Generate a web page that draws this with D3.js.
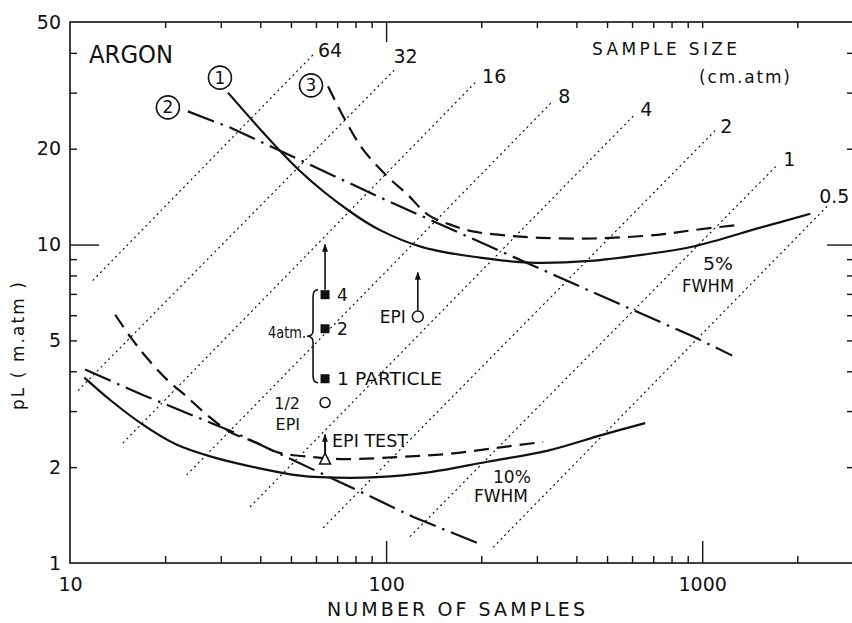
<!DOCTYPE html>
<html>
<head>
<meta charset="utf-8">
<script src="https://cdn.jsdelivr.net/npm/d3@7"></script>
<style>
  body { margin: 0; background: #fff; }
  svg text { font-family: "DejaVu Sans", "Liberation Sans", Arial, sans-serif; fill: #111; }
</style>
</head>
<body>
<svg id="chart" width="852" height="623"></svg>
<script>
// ---- axis ticks ----
const xTicksMinor = [20, 30, 40, 50, 60, 70, 80, 90, 200, 300, 400, 500, 600, 700, 800, 900, 2000];
const xTickLabels = [10, 100, 1000];
const yTicksMinor = [2, 3, 4, 5, 6, 7, 8, 9, 20, 30, 40];
const yTickLabels = [1, 2, 5, 10, 20, 50];

// ---- lines of constant sample size (cm.atm): [N, pL] at each end ----
const sampleSizes = ["64", "32", "16", "8", "4", "2", "1", "0.5"];
const isoStart = [[11.8, 7.71], [10.6, 3.48], [14.7, 2.38], [23.4, 1.89], [37.1, 1.50], [63.2, 1.29], [119, 1.21], [218, 1.12]];
const isoEnd = [[58.7, 39.4], [107, 35.6], [194, 32.7], [338, 28.3], [614, 25.7], [1099, 22.8], [1740, 17.9], [2504, 13.3]];

// ---- 5% FWHM curves: [number of samples, pL (m.atm)] ----
const fwhm5Curve1 = [[31.6, 30.0], [53.5, 17.0], [76.9, 12.7], [95.7, 11.1], [131, 9.8], [198, 9.1], [285, 8.78], [442, 8.89], [651, 9.3], [937, 9.86], [1528, 11.3], [2199, 12.5]];
const fwhm5Curve2 = [[23.6, 26.2], [32.1, 23.3], [103, 13.6], [411, 7.38], [937, 5.14], [1245, 4.48]];
const fwhm5Curve3 = [[65.5, 31.4], [74.1, 24.7], [84.5, 19.9], [100.7, 16.4], [116.5, 14.4], [135.8, 12.4], [159.5, 11.55], [188, 11.0], [234, 10.7], [307, 10.5], [452, 10.45], [736, 10.75], [937, 11.1], [1319, 11.55]];

// ---- 10% FWHM curves ----
const fwhm10Curve1 = [[11.1, 3.82], [13.4, 3.25], [17.0, 2.72], [21.8, 2.35], [28.3, 2.15], [39.1, 1.99], [53.5, 1.88], [61.8, 1.86], [93.6, 1.86], [138, 1.93], [209, 2.08], [323, 2.25], [486, 2.53], [660, 2.75]];
const fwhm10Curve2 = [[11.16, 4.05], [17.0, 3.37], [32.8, 2.58], [84.5, 1.66], [122, 1.395], [194, 1.156]];
const fwhm10Curve3 = [[13.9, 6.02], [15.5, 5.14], [17.5, 4.41], [20.3, 3.76], [23.4, 3.33], [27.1, 2.92], [32.1, 2.58], [39.1, 2.38], [45.2, 2.23], [58.7, 2.15], [75.3, 2.12], [108, 2.15], [156, 2.20], [224, 2.30], [314, 2.40]];

// ---- measured points ----
const particleN = 64.1;
const particleLabels = ["4", "2", "1 PARTICLE"];
const particlePL = [6.96, 5.44, 3.79];
const particleLimitPL = 10;
const epiPoint = [126, 5.94];
const epiLimitPL = 8.17;
const halfEpiPoint = [64.1, 3.19];
const epiTestPoint = [64.1, 2.12];
const epiTestLimitPL = 2.53;

const svg = d3.select("#chart");
const x = d3.scaleLog().domain([10, 3000]).range([70, 853]);
const y = d3.scaleLog().domain([1, 50]).range([563, 22]);
const line = d3.line().x(d => x(d[0])).y(d => y(d[1]));
const smooth = d3.line().x(d => x(d[0])).y(d => y(d[1])).curve(d3.curveCatmullRom.alpha(0.5));
const ink = "#111";

const defs = svg.append("defs");
defs.append("marker").attr("id", "arrow")
  .attr("viewBox", "0 0 10 10").attr("refX", 9).attr("refY", 5)
  .attr("markerUnits", "userSpaceOnUse").attr("markerWidth", 8).attr("markerHeight", 6)
  .attr("preserveAspectRatio", "none").attr("orient", "auto")
  .append("path").attr("d", "M0,0L10,5L0,10Z").attr("fill", ink);

// frame
svg.append("rect").attr("x", x(10)).attr("y", y(50))
  .attr("width", x(3000) - x(10)).attr("height", y(1) - y(50))
  .attr("fill", "none").attr("stroke", ink).attr("stroke-width", 1.6);

// inward tick marks
function tickMarks(axisFn, scale, vals, size, transform) {
  const g = svg.append("g").attr("transform", transform)
    .call(axisFn(scale).tickValues(vals).tickSize(size).tickFormat(""));
  g.select(".domain").remove();
  g.selectAll("line").attr("stroke", ink).attr("stroke-width", 1.4);
}
tickMarks(d3.axisBottom, x, xTicksMinor, -7, `translate(0,${y(1)})`);
tickMarks(d3.axisBottom, x, [100, 1000], -22, `translate(0,${y(1)})`);
tickMarks(d3.axisTop, x, xTicksMinor.concat([1000]), -6, `translate(0,${y(50)})`);
tickMarks(d3.axisTop, x, [100], -20, `translate(0,${y(50)})`);
tickMarks(d3.axisLeft, y, yTicksMinor, -7, `translate(${x(10)},0)`);
tickMarks(d3.axisLeft, y, [10], -29, `translate(${x(10)},0)`);
tickMarks(d3.axisRight, y, yTicksMinor, -6, `translate(${x(3000)},0)`);
tickMarks(d3.axisRight, y, [10], -26, `translate(${x(3000)},0)`);

// tick labels
const xLab = svg.append("g").attr("transform", `translate(0,${y(1)})`)
  .call(d3.axisBottom(x).tickValues(xTickLabels).tickSize(0).tickPadding(15).tickFormat(d3.format("d")));
xLab.select(".domain").remove();
xLab.selectAll("text").attr("font-size", 19);
const yLab = svg.append("g").attr("transform", `translate(${x(10)},0)`)
  .call(d3.axisLeft(y).tickValues(yTickLabels).tickSize(0).tickPadding(9).tickFormat(d3.format("d")));
yLab.select(".domain").remove();
yLab.selectAll("text").attr("font-size", 19);

// axis titles
svg.append("text").attr("x", 327).attr("y", 616).attr("font-size", 19)
  .attr("textLength", 258).attr("lengthAdjust", "spacing").text("NUMBER OF SAMPLES");
svg.append("text").attr("transform", "translate(24,346) rotate(-90)")
  .attr("text-anchor", "middle").attr("font-size", 17)
  .attr("textLength", 128).attr("lengthAdjust", "spacing").text("pL ( m.atm )");

// constant sample-size lines
const labelNudge = { "32": [-2, -6], "0.5": [-9, -2] };
const iso = svg.append("g");
sampleSizes.forEach((s, i) => {
  iso.append("path").attr("d", line([isoStart[i], isoEnd[i]]))
    .attr("fill", "none").attr("stroke", "#000").attr("stroke-width", 1.1)
    .attr("stroke-dasharray", "2,3.4");
  const nudge = labelNudge[s] || [5, 2];
  iso.append("text").attr("x", x(isoEnd[i][0]) + nudge[0]).attr("y", y(isoEnd[i][1]) + nudge[1])
    .attr("font-size", 19).text(s);
});

// FWHM curves
const curveStyles = [
  { dash: null },
  { dash: "28,7,2.5,7" },
  { dash: "15,8" }
];
function drawCurve(data, style, gen) {
  svg.append("path").attr("d", gen(data)).attr("fill", "none")
    .attr("stroke", ink).attr("stroke-width", 2.2)
    .attr("stroke-dasharray", style.dash);
}
drawCurve(fwhm5Curve1, curveStyles[0], smooth);
drawCurve(fwhm5Curve2, curveStyles[1], line);
drawCurve(fwhm5Curve3, curveStyles[2], smooth);
drawCurve(fwhm10Curve1, curveStyles[0], smooth);
drawCurve(fwhm10Curve2, curveStyles[1], line);
drawCurve(fwhm10Curve3, curveStyles[2], smooth);

// circled curve numbers next to the 5% curve starts
const circled = [
  { n: "1", at: fwhm5Curve1[0], dx: -8, dy: -15 },
  { n: "2", at: fwhm5Curve2[0], dx: -20, dy: -4 },
  { n: "3", at: fwhm5Curve3[0], dx: -17, dy: -1 }
];
circled.forEach(c => {
  const cx = x(c.at[0]) + c.dx, cy = y(c.at[1]) + c.dy;
  svg.append("circle").attr("cx", cx).attr("cy", cy).attr("r", 11.5)
    .attr("fill", "#fff").attr("stroke", ink).attr("stroke-width", 1.6);
  svg.append("text").attr("x", cx).attr("y", cy + 6).attr("text-anchor", "middle")
    .attr("font-size", 17).text(c.n);
});

// plot labels
svg.append("text").attr("x", 89).attr("y", 63).attr("font-size", 24)
  .attr("textLength", 84).attr("lengthAdjust", "spacingAndGlyphs").text("ARGON");
svg.append("text").attr("x", 592).attr("y", 55).attr("font-size", 17)
  .attr("textLength", 145).attr("lengthAdjust", "spacing").text("SAMPLE SIZE");
svg.append("text").attr("x", 699).attr("y", 83).attr("font-size", 17)
  .attr("textLength", 91).attr("lengthAdjust", "spacing").text("(cm.atm)");
svg.append("text").attr("x", 703).attr("y", 270).attr("font-size", 17)
  .attr("textLength", 30).attr("lengthAdjust", "spacingAndGlyphs").text("5%");
svg.append("text").attr("x", 682).attr("y", 292).attr("font-size", 17)
  .attr("textLength", 52).attr("lengthAdjust", "spacingAndGlyphs").text("FWHM");
svg.append("text").attr("x", 493).attr("y", 483).attr("font-size", 17)
  .attr("textLength", 38).attr("lengthAdjust", "spacingAndGlyphs").text("10%");
svg.append("text").attr("x", 474).attr("y", 502).attr("font-size", 17)
  .attr("textLength", 54).attr("lengthAdjust", "spacingAndGlyphs").text("FWHM");

// particle points with brace
const px = x(particleN);
particlePL.forEach((v, i) => {
  svg.append("rect").attr("x", px - 4.5).attr("y", y(v) - 4.5).attr("width", 9).attr("height", 9).attr("fill", ink);
  const t = svg.append("text").attr("x", px + 12).attr("y", y(v) + 6).attr("font-size", 17).text(particleLabels[i]);
  if (particleLabels[i].length > 2) t.attr("textLength", 105).attr("lengthAdjust", "spacingAndGlyphs");
});
svg.append("line").attr("x1", px).attr("x2", px)
  .attr("y1", y(particlePL[0]) - 5).attr("y2", y(particleLimitPL))
  .attr("stroke", ink).attr("stroke-width", 1.6).attr("marker-end", "url(#arrow)");
{
  const bx = px - 12, yTop = y(particlePL[0]) - 5, yBot = y(particlePL[2]) + 4, yMid = (yTop + yBot) / 2;
  svg.append("path")
    .attr("d", `M${bx + 5},${yTop} Q${bx},${yTop} ${bx},${yTop + 7} L${bx},${yMid - 6} Q${bx},${yMid} ${bx - 6},${yMid} Q${bx},${yMid} ${bx},${yMid + 6} L${bx},${yBot - 7} Q${bx},${yBot} ${bx + 5},${yBot}`)
    .attr("fill", "none").attr("stroke", ink).attr("stroke-width", 1.6);
  svg.append("text").attr("x", bx - 7).attr("y", yMid + 2).attr("text-anchor", "end")
    .attr("font-size", 15).attr("textLength", 38).attr("lengthAdjust", "spacingAndGlyphs").text("4atm.");
}

// EPI point
svg.append("circle").attr("cx", x(epiPoint[0])).attr("cy", y(epiPoint[1])).attr("r", 5.5)
  .attr("fill", "#fff").attr("stroke", ink).attr("stroke-width", 1.5);
svg.append("line").attr("x1", x(epiPoint[0])).attr("x2", x(epiPoint[0]))
  .attr("y1", y(epiPoint[1]) - 6).attr("y2", y(epiLimitPL))
  .attr("stroke", ink).attr("stroke-width", 1.6).attr("marker-end", "url(#arrow)");
svg.append("text").attr("x", x(epiPoint[0]) - 12).attr("y", y(epiPoint[1]) + 6)
  .attr("text-anchor", "end").attr("font-size", 17).text("EPI");

// 1/2 EPI point
svg.append("circle").attr("cx", x(halfEpiPoint[0])).attr("cy", y(halfEpiPoint[1])).attr("r", 5)
  .attr("fill", "#fff").attr("stroke", ink).attr("stroke-width", 1.5);
svg.append("text").attr("x", x(halfEpiPoint[0]) - 25).attr("y", y(halfEpiPoint[1]) + 6)
  .attr("text-anchor", "end").attr("font-size", 16).text("1/2");
svg.append("text").attr("x", x(halfEpiPoint[0]) - 25).attr("y", y(halfEpiPoint[1]) + 27)
  .attr("text-anchor", "end").attr("font-size", 16).text("EPI");

// EPI test point
{
  const tx = x(epiTestPoint[0]), ty = y(epiTestPoint[1]);
  svg.append("path").attr("d", `M${tx},${ty - 6} L${tx + 5.5},${ty + 5} L${tx - 5.5},${ty + 5} Z`)
    .attr("fill", "#fff").attr("stroke", ink).attr("stroke-width", 1.5);
  svg.append("line").attr("x1", tx).attr("x2", tx).attr("y1", ty - 6).attr("y2", y(epiTestLimitPL))
    .attr("stroke", ink).attr("stroke-width", 2).attr("marker-end", "url(#arrow)");
  svg.append("text").attr("x", tx + 7).attr("y", ty - 12).attr("font-size", 17)
    .attr("textLength", 76).attr("lengthAdjust", "spacingAndGlyphs").text("EPI TEST");
}
</script>
</body>
</html>
